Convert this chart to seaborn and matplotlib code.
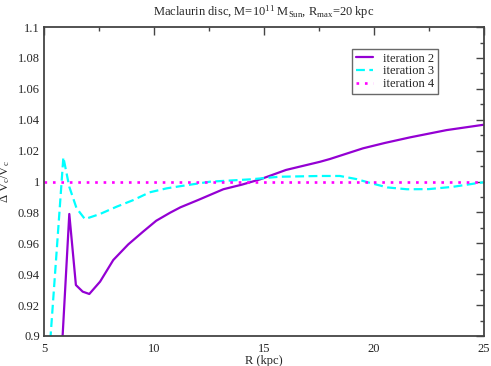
import matplotlib
matplotlib.use("Agg")
import matplotlib.pyplot as plt
import seaborn as sns
import pandas as pd
from matplotlib.ticker import MultipleLocator

# Data
r_it2 = [5.75, 6.15, 6.45, 6.76, 7.06, 7.55, 8.15, 8.83, 9.5, 10.1, 10.73, 11.2,
         12.0, 13.15, 14.0, 14.82, 16.0, 17.55, 18.0, 19.5, 20.5, 21.64, 23.3, 25.0]
v_it2 = [0.875, 0.979, 0.933, 0.9287, 0.9272, 0.9352, 0.9492, 0.9593, 0.9675, 0.9746,
         0.9798, 0.9833, 0.988, 0.995, 0.998, 1.0014, 1.0075, 1.0128, 1.0146, 1.0215,
         1.025, 1.0286, 1.0333, 1.0368]

r_it3 = [5.2, 5.88, 6.15, 6.48, 6.86, 7.55, 8.3, 9.06, 9.8, 10.58, 11.2, 12.55,
         14.36, 15.7, 17.55, 18.45, 19.2, 19.8, 20.6, 21.5, 22.5, 23.6, 24.8, 25.0]
v_it3 = [0.88, 1.0157, 0.9966, 0.9827, 0.9757, 0.979, 0.9837, 0.988, 0.993, 0.9956,
         0.997, 0.9999, 1.0014, 1.0031, 1.0036, 1.0036, 1.0016, 0.9992, 0.9962, 0.995,
         0.9951, 0.9966, 0.9992, 0.9995]

r_it4 = [5.0, 25.0]
v_it4 = [1.0, 1.0]

labels = ["iteration 2", "iteration 3", "iteration 4"]
colors = ["#9400d3", "#00ffff", "#ff00ff"]
xticks = [5, 10, 15, 20, 25]
yticks = [0.9, 0.92, 0.94, 0.96, 0.98, 1.0, 1.02, 1.04, 1.06, 1.08, 1.1]
yticklabels = ["0.9", "0.92", "0.94", "0.96", "0.98", "1", "1.02", "1.04", "1.06", "1.08", "1.1"]

sns.set_style("white")
plt.rcParams["font.family"] = ["Liberation Serif", "DejaVu Serif"]
plt.rcParams["mathtext.fontset"] = "custom"
plt.rcParams["mathtext.rm"] = "Liberation Serif"
plt.rcParams["mathtext.it"] = "Liberation Serif"

fig = plt.figure(figsize=(4.91, 3.66), dpi=100)
ax = fig.add_axes([0.0896, 0.082, 0.8961, 0.844])

d2 = pd.DataFrame({"R": r_it2, "v": v_it2})
d3 = pd.DataFrame({"R": r_it3, "v": v_it3})
d4 = pd.DataFrame({"R": r_it4, "v": v_it4})

sns.lineplot(data=d2, x="R", y="v", ax=ax, color=colors[0], lw=1.6, label=labels[0], sort=False)
sns.lineplot(data=d3, x="R", y="v", ax=ax, color=colors[1], lw=1.6, label=labels[1], sort=False,
             linestyle=(0, (4, 2)))
sns.lineplot(data=d4, x="R", y="v", ax=ax, color=colors[2], lw=1.9, label=labels[2], sort=False,
             linestyle=(0, (1, 2.2)))

ax.set_xlim(5, 25)
ax.set_ylim(0.9, 1.1)
ax.xaxis.set_minor_locator(MultipleLocator(2.5))
ax.yaxis.set_minor_locator(MultipleLocator(0.01))
ax.set_yticks(yticks)
ax.set_yticklabels(yticklabels)
ax.set_xticks(xticks)
ax.set_xticklabels([str(t) for t in xticks])
ax.tick_params(which="both", direction="in", top=True, right=True, labelsize=9,
               color="#444444")
ax.tick_params(axis="x", pad=5)
ax.tick_params(axis="y", pad=3)
ax.tick_params(which="major", length=6, width=1)
ax.tick_params(which="minor", length=3, width=1)
for s in ax.spines.values():
    s.set_color("#444444")
    s.set_linewidth(1.3)

ax.set_xlabel("R (kpc)", fontsize=9, labelpad=0)
ax.set_ylabel(r"$\Delta$ V$_{\rm c}$/V$_{\rm c}$", fontsize=9, labelpad=4)
ax.set_title(r"Maclaurin disc, M=10$^{11}$ M$_{\rm Sun}$, R$_{\rm max}$=20 kpc", fontsize=9, pad=8)

leg = ax.legend(loc="upper left", frameon=True, fancybox=False,
                fontsize=9, handlelength=1.4, handletextpad=0.75, labelspacing=0.05,
                borderpad=0.3, borderaxespad=0)
leg.set_bbox_to_anchor((352 / 491, 1 - 49 / 366), transform=fig.transFigure)
leg.get_frame().set_edgecolor("#444444")
leg.get_frame().set_linewidth(1.0)

fig.savefig("out.png", dpi=100)
